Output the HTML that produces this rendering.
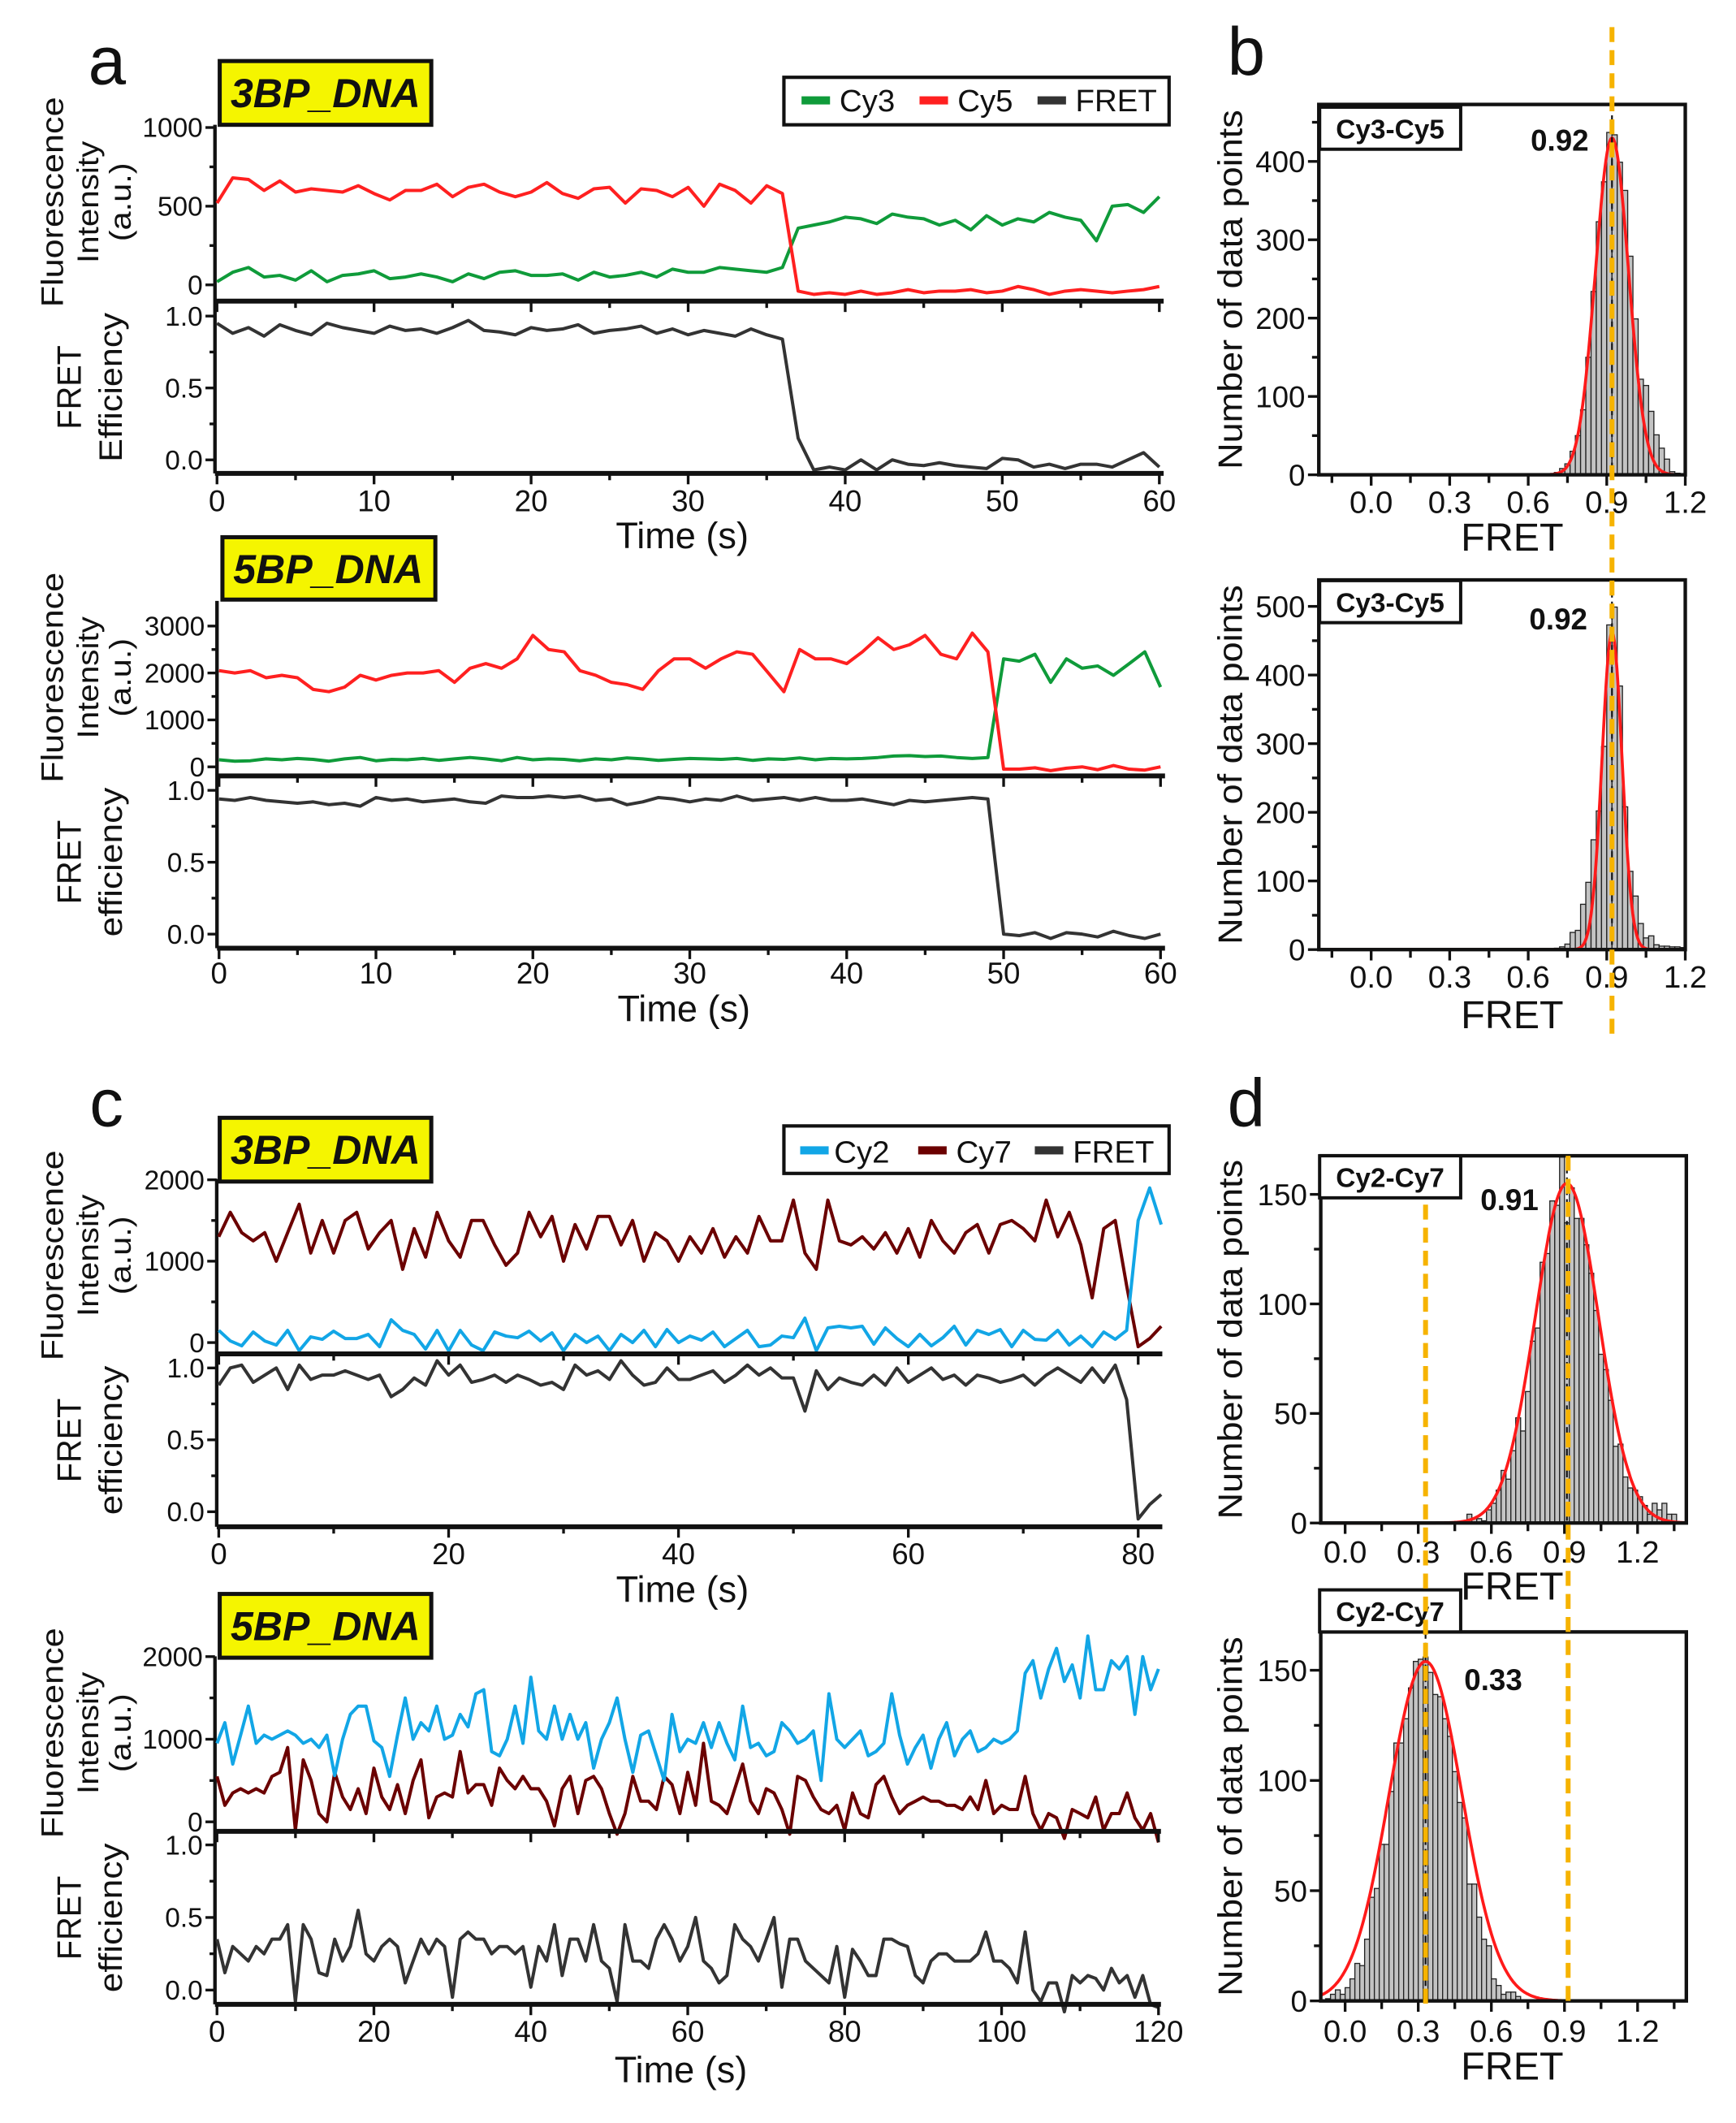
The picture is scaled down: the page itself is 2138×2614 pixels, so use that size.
<!DOCTYPE html>
<html><head><meta charset="utf-8">
<style>
html,body{margin:0;padding:0;background:#fff;}
svg{display:block;}
text{font-family:"Liberation Sans",Arial,sans-serif;fill:#111;}
</style></head>
<body>
<svg id="fig" xmlns="http://www.w3.org/2000/svg" width="2138" height="2614" viewBox="0 0 1280 1565" preserveAspectRatio="none">
<rect x="0" y="0" width="1280" height="1565" fill="#fff"/>
<text x="65" y="62" font-size="50">a</text>
<text x="905" y="55" font-size="50">b</text>
<text x="66" y="830" font-size="50">c</text>
<text x="905" y="830" font-size="50">d</text>

<g><rect x="162" y="45" width="156" height="47" fill="#f5f500" stroke="#111" stroke-width="3"/><text x="240" y="79" font-size="30" font-weight="bold" font-style="italic" text-anchor="middle">3BP_DNA</text></g>
<g><rect x="164" y="396" width="157" height="46" fill="#f5f500" stroke="#111" stroke-width="3"/><text x="242" y="430" font-size="30" font-weight="bold" font-style="italic" text-anchor="middle">5BP_DNA</text></g>
<g><rect x="162" y="824" width="156" height="47" fill="#f5f500" stroke="#111" stroke-width="3"/><text x="240" y="858" font-size="30" font-weight="bold" font-style="italic" text-anchor="middle">3BP_DNA</text></g>
<g><rect x="162" y="1175" width="156" height="47" fill="#f5f500" stroke="#111" stroke-width="3"/><text x="240" y="1209" font-size="30" font-weight="bold" font-style="italic" text-anchor="middle">5BP_DNA</text></g>

<g>
<rect x="578" y="57" width="284" height="35" fill="#fff" stroke="#111" stroke-width="2.5"/>
<rect x="591" y="71" width="21" height="6" fill="#0f9b3a"/><text x="619" y="82" font-size="23">Cy3</text>
<rect x="678" y="71" width="21" height="6" fill="#ff2020"/><text x="706" y="82" font-size="23">Cy5</text>
<rect x="765" y="71" width="21" height="6" fill="#333"/><text x="793" y="82" font-size="23">FRET</text>
</g>
<g>
<rect x="578" y="830" width="284" height="35" fill="#fff" stroke="#111" stroke-width="2.5"/>
<rect x="590" y="845" width="21" height="6" fill="#12a6e6"/><text x="615" y="857" font-size="23">Cy2</text>
<rect x="677" y="845" width="21" height="6" fill="#6b0000"/><text x="705" y="857" font-size="23">Cy7</text>
<rect x="763" y="845" width="21" height="6" fill="#333"/><text x="791" y="857" font-size="23">FRET</text>
</g>
</svg>
<script>
// ---------- trace data (dt = 1 s) ----------
const a1Cy5 = [520,680,670,600,660,590,610,600,590,630, 580,540,600,600,640,560,620,640,590,560, 590,650,580,550,610,620,520,610,600,560, 620,500,640,600,520,630,580,-40,-60,-50, -60,-40,-60,-50,-30,-50,-40,-40,-30,-50, -40,-10,-30,-60,-40,-30,-40,-50,-40,-30, -10];
const a1Cy3 = [20,80,110,50,60,30,90,20,60,70, 90,40,50,70,50,20,70,40,80,90, 60,60,70,30,80,50,60,80,50,100, 80,80,110,100,90,80,110,360,380,400, 430,420,390,450,430,420,380,410,350,440, 380,420,400,460,430,410,280,500,510,460, 560];
const a1Fret = [0.95,0.88,0.92,0.86,0.94,0.90,0.87,0.95,0.92,0.90, 0.88,0.93,0.90,0.91,0.88,0.92,0.97,0.90,0.89,0.87, 0.92,0.90,0.91,0.94,0.88,0.90,0.91,0.93,0.88,0.91, 0.87,0.90,0.88,0.86,0.91,0.87,0.84,0.15,-0.07,-0.05, -0.07,0.0,-0.07,0.0,-0.03,-0.04,-0.02,-0.04,-0.05,-0.06, 0.01,0.0,-0.05,-0.03,-0.06,-0.03,-0.03,-0.05,0.0,0.05, -0.05];
const a2Cy5 = [2050,2000,2050,1900,1950,1900,1650,1600,1700,1950, 1850,1950,2000,2000,2050,1800,2100,2200,2100,2300, 2800,2500,2450,2050,1950,1800,1750,1650,2050,2300, 2300,2100,2300,2450,2400,2000,1600,2500,2300,2300, 2200,2450,2750,2500,2600,2800,2400,2300,2850,2450, -50,-50,-20,-80,-30,0,-60,30,-50,-70, 0];
const a2Cy3 = [150,120,130,170,150,180,160,120,170,200, 130,160,150,180,140,170,200,170,130,200, 150,170,160,130,170,150,190,170,140,160, 180,170,160,180,140,170,160,190,150,180, 170,180,200,230,240,220,230,200,180,200, 2300,2250,2400,1800,2300,2100,2150,1950,2200,2450, 1700];
const a2Fret = [0.94,0.93,0.95,0.93,0.92,0.91,0.92,0.90,0.91,0.89, 0.95,0.93,0.94,0.92,0.93,0.94,0.92,0.91,0.96,0.95, 0.95,0.96,0.95,0.96,0.93,0.94,0.90,0.92,0.95,0.94, 0.92,0.94,0.93,0.96,0.93,0.94,0.95,0.93,0.95,0.93, 0.93,0.94,0.92,0.90,0.93,0.92,0.93,0.94,0.95,0.94, 0.0,-0.01,0.01,-0.03,0.01,0.0,-0.02,0.02,-0.01,-0.03, 0.0];
const c1Cy7 = [1300,1600,1350,1250,1350,1000,1350,1700,1100,1500, 1100,1500,1600,1150,1350,1500,900,1400,1050,1600, 1250,1050,1500,1500,1200,950,1100,1600,1300,1550, 1000,1450,1150,1550,1550,1200,1500,1000,1350,1250, 1000,1300,1100,1400,1050,1300,1100,1550,1250,1250, 1750,1100,900,1750,1250,1200,1300,1150,1350,1100, 1400,1050,1500,1250,1100,1350,1450,1100,1450,1500, 1400,1250,1750,1300,1600,1200,550,1400,1500,700, -50,50,200];
const c1Cy2 = [150,20,-40,130,20,-30,150,-100,70,40, 140,50,50,100,-50,280,150,100,-80,150, -100,150,-30,-100,130,80,60,140,20,120, -100,100,0,80,-100,100,0,150,-50,160, 0,80,30,130,-50,50,150,-50,-30,80, 60,300,-100,180,200,180,200,-20,180,50, -50,100,-40,60,200,-30,150,100,160,-50, 150,40,30,150,-30,80,-50,130,40,150, 1500,1900,1450];
const c1Fret = [0.88,1.0,1.02,0.9,0.95,1.0,0.85,1.02,0.92,0.95, 0.95,0.98,0.95,0.92,0.95,0.8,0.85,0.93,0.88,1.05, 0.95,1.02,0.9,0.92,0.95,0.9,0.95,0.92,0.88,0.9, 0.85,1.02,0.95,0.98,0.92,1.05,0.95,0.88,0.9,1.0, 0.92,0.92,0.95,0.98,0.9,0.95,1.02,0.95,1.0,0.93, 0.93,0.7,0.98,0.85,0.93,0.9,0.88,0.95,0.88,1.0, 0.9,0.95,1.0,0.92,0.95,0.88,0.95,0.93,0.9,0.92, 0.95,0.88,0.95,1.0,0.95,0.9,1.0,0.9,1.02,0.78, -0.05,0.05,0.12];
const c2Cy2 = [950,1200,700,1050,1400,950,1050,1000,1050,1100, 1050,950,1000,900,1050,560,1000,1300,1400,1400, 980,900,550,1050,1500,1000,1200,1100,1400,1000, 1050,1300,1150,1550,1600,850,800,1000,1400,950, 1750,1100,1000,1400,1000,1300,1000,1200,650,1000, 1200,1500,1000,600,1050,1100,800,500,1300,850, 1000,950,1200,900,1200,950,750,1400,900,950, 800,850,1200,1100,950,1000,1100,500,1550,1000, 900,1000,1100,800,850,950,1550,1050,700,900, 1050,650,1000,1200,800,1000,1100,850,900,1000, 950,1000,1100,1800,1950,1500,1850,2100,1700,1900, 1500,2250,1600,1600,1950,1850,2000,1300,2000,1600, 1850];
const c2Cy7 = [550,200,350,400,350,400,350,550,600,900, -100,750,500,100,0,600,300,150,400,100, 650,300,150,450,100,500,750,50,300,350, 300,850,350,450,450,200,650,500,400,550, 400,400,250,-50,400,550,100,500,550,400, 100,-150,100,550,250,250,150,550,450,100, 600,200,950,250,200,100,400,700,250,100, 400,350,150,-150,550,500,300,150,100,200, -100,350,100,50,450,550,300,100,200,250, 300,250,250,200,200,150,300,150,500,100, 200,150,150,550,100,-100,100,50,-200,150, 100,50,300,-100,100,100,350,50,-100,100, -250];
const c2Fret = [0.35,0.12,0.3,0.25,0.2,0.3,0.25,0.35,0.35,0.45, -0.08,0.45,0.35,0.12,0.1,0.35,0.2,0.3,0.55,0.25, 0.2,0.3,0.35,0.3,0.05,0.2,0.35,0.25,0.35,0.3, -0.05,0.35,0.4,0.35,0.35,0.25,0.3,0.3,0.25,0.3, 0.02,0.3,0.2,0.45,0.1,0.35,0.35,0.2,0.45,0.2, 0.15,-0.08,0.45,0.2,0.2,0.15,0.35,0.45,0.35,0.2, 0.3,0.5,0.2,0.15,0.05,0.1,0.45,0.35,0.3,0.2, 0.35,0.5,0.02,0.35,0.35,0.2,0.15,0.1,0.05,0.3, -0.05,0.28,0.2,0.1,0.1,0.35,0.35,0.32,0.3,0.1, 0.05,0.2,0.25,0.25,0.2,0.2,0.2,0.25,0.4,0.2, 0.2,0.15,0.05,0.4,0.0,-0.08,0.05,0.05,-0.15,0.1, 0.05,0.1,0.08,0.0,0.15,0.05,0.1,-0.05,0.1,-0.1, -0.12];

// ---------- histogram data ----------
const b1Counts = [3,8,14,30,50,83,150,234,323,374,437,434,399,363,279,199,122,114,81,51,34,20,4,2];
const b1BinStart = 0.70;
const b1Fit = [430, 0.92, 0.063];
const b2Counts = [1,2,4,8,25,28,66,98,160,202,296,473,499,384,208,114,78,38,17,20,7,5,5,4,4,3];
const b2BinStart = 0.68;
const b2Fit = [462, 0.92, 0.038];
const d1Counts = [4,2,2,1,6,9,15,24,20,33,48,42,60,83,89,119,123,147,145,167,137,153,139,139,127,114,97,77,70,56,35,36,21,16,15,12,8,4,9,6,9,4,4];
const d1BinStart = 0.50;
const d1Fit = [155, 0.91, 0.13];
const d2Counts = [1,3,5,3,6,10,17,16,28,47,51,71,71,95,117,117,128,142,154,155,156,149,139,138,128,120,104,90,83,53,53,38,28,25,10,7,3,4,4,2];
const d2BinStart = -0.08;
const d2Fit = [154, 0.33, 0.15];
const binWidth = 0.02;
const histXTicks = [0.0,0.3,0.6,0.9,1.2];
const histXTickLabels = ["0.0","0.3","0.6","0.9","1.2"];
const bYTicks = [0,100,200,300,400];
const b2YTicks = [0,100,200,300,400,500];
const dYTicks = [0,50,100,150];
const fretTicks = [0,0.5,1.0];
const fretTickLabels = ["0.0","0.5","1.0"];

const NS = "http://www.w3.org/2000/svg";
const svg = document.getElementById('fig');
function mk(tag, attrs, parent) {
  const e = document.createElementNS(NS, tag);
  for (const k in attrs) e.setAttribute(k, attrs[k]);
  (parent || svg).appendChild(e);
  return e;
}
function txt(x, y, s, size, parent, anchor, extra) {
  const t = mk('text', Object.assign({x: x, y: y, 'font-size': size, 'text-anchor': anchor || 'middle'}, extra || {}), parent);
  t.textContent = s;
  return t;
}
function rotText(x, y, s, size, len, parent) {
  const t = mk('text', {x: 0, y: 0, 'font-size': size, 'text-anchor': 'middle', 'dominant-baseline': 'central', transform: 'translate(' + x + ',' + y + ') rotate(-90)', textLength: len, lengthAdjust: 'spacingAndGlyphs'}, parent);
  t.textContent = s;
  return t;
}

function tracePanel(P) {
  const g = mk('g', {});
  
  
  const X = t => P.x0 + t * P.sx;
  const YI = v => P.iy0 - v * P.ik;
  const YF = v => P.fy0 - v * P.fk;
  const axX = P.x0 - 1.5;
  // left axis
  const la = mk('line', {x1: axX, y1: P.top, x2: axX, y2: P.bottom, stroke: '#111', 'stroke-width': 2.6}, g);
  
  
  // intensity ticks
  for (let v = 0; v <= P.imax + 1e-9; v += P.iminor) {
    const maj = Math.abs(v / P.imajor - Math.round(v / P.imajor)) < 1e-6;
    mk('line', {x1: axX - (maj ? 7 : 4), y1: YI(v), x2: axX, y2: YI(v), stroke: '#111', 'stroke-width': 2}, g);
    if (maj) {
      const tl = txt(axX - 9, YI(v) + 7, String(v), 20, g, 'end');
      
      
    }
  }
  // fret ticks
  for (let v = 0; v <= 1.0001; v += 0.25) {
    const maj = Math.abs(v * 2 - Math.round(v * 2)) < 1e-6;
    mk('line', {x1: axX - (maj ? 7 : 4), y1: YF(v), x2: axX, y2: YF(v), stroke: '#111', 'stroke-width': 2}, g);
  }
  fretTicks.forEach((v, i) => {
    const tl = txt(axX - 9, YF(v) + 7, fretTickLabels[i], 20, g, 'end');
    
    
  });
  // series
  const clipId = P.name + '-clip';
  const cp = mk('clipPath', {id: clipId}, g);
  mk('rect', {x: axX, y: P.top - 40, width: P.xEnd - axX + 4, height: P.bottom - P.top + 50}, cp);
  function poly(arr, yf, color, nm) {
    const pts = arr.map((v, i) => X(i * P.dt).toFixed(1) + ',' + yf(v).toFixed(1)).join(' ');
    const pl = mk('polyline', {points: pts, fill: 'none', stroke: color, 'stroke-width': 2.4, 'stroke-linejoin': 'round', 'clip-path': 'url(#' + clipId + ')'}, g);
    
    
  }
  poly(P.s1, YI, P.c1, P.n1);
  poly(P.s2, YI, P.c2, P.n2);
  poly(P.fret, YF, '#333', 'fret-efficiency-line');
  // separator & bottom axis
  [P.sep, P.bottom].forEach((yy, k) => {
    const ln = mk('line', {x1: axX, y1: yy, x2: P.xEnd, y2: yy, stroke: '#111', 'stroke-width': 3.6}, g);
    
    
    for (let t = 0; t <= P.tmax + 1e-9; t += P.tminor) {
      const maj = Math.abs(t / P.tmajor - Math.round(t / P.tmajor)) < 1e-6;
      mk('line', {x1: X(t), y1: yy, x2: X(t), y2: yy + (maj ? 8 : 5), stroke: '#111', 'stroke-width': 2}, g);
    }
  });
  for (let t = 0; t <= P.tmax + 1e-9; t += P.tmajor) {
    const tl = txt(X(t), P.tickBase, String(t), 22, g, 'middle');
    
    
  }
  const xt = txt((P.x0 + P.xEnd) / 2 - 6, P.timeBase, 'Time (s)', 27, g, 'middle');
  
  
  const ic = (P.top + P.sep) / 2 - 8;
  const t1 = rotText(39, ic, 'Fluorescence', 23, 155, g);
  
  
  const t2 = rotText(65, ic, 'Intensity', 22, 90, g);
  
  
  const t3 = rotText(89, ic, '(a.u.)', 22, 58, g);
  
  
  const fc = (P.sep + P.bottom) / 2;
  const t4 = rotText(51, fc, 'FRET', 25, 62, g);
  
  
  const t5 = rotText(82, fc, P.effWord, 24, 110, g);
  
  
}

tracePanel({name: 'trace-a-3bp', x0: 160, sx: 11.58, xEnd: 858, dt: 1, tmax: 60, tmajor: 10, tminor: 5,
  iy0: 210, ik: 0.116, imax: 1000, imajor: 500, iminor: 250, top: 92, sep: 222, fy0: 339, fk: 106, bottom: 349,
  tickBase: 377, timeBase: 404, s1: a1Cy3, c1: '#0f9b3a', n1: 'cy3-line', s2: a1Cy5, c2: '#ff2020', n2: 'cy5-line', fret: a1Fret, effWord: 'Efficiency'});
tracePanel({name: 'trace-a-5bp', x0: 161.5, sx: 11.57, xEnd: 859, dt: 1, tmax: 60, tmajor: 10, tminor: 5,
  iy0: 565.3, ik: 0.0346, imax: 3000, imajor: 1000, iminor: 500, top: 443, sep: 572, fy0: 688.6, fk: 106, bottom: 699,
  tickBase: 725, timeBase: 753, s1: a2Cy3, c1: '#0f9b3a', n1: 'cy3-line', s2: a2Cy5, c2: '#ff2020', n2: 'cy5-line', fret: a2Fret, effWord: 'efficiency'});
tracePanel({name: 'trace-c-3bp', x0: 161.3, sx: 8.474, xEnd: 857, dt: 1, tmax: 80, tmajor: 20, tminor: 10,
  iy0: 989.7, ik: 0.06, imax: 2000, imajor: 1000, iminor: 500, top: 869, sep: 998, fy0: 1114.4, fk: 106, bottom: 1125.5,
  tickBase: 1153, timeBase: 1181, s1: c1Cy7, c1: '#6b0000', n1: 'cy7-line', s2: c1Cy2, c2: '#12a6e6', n2: 'cy2-line', fret: c1Fret, effWord: 'efficiency'});
tracePanel({name: 'trace-c-5bp', x0: 160, sx: 5.785, xEnd: 856, dt: 1, tmax: 120, tmajor: 20, tminor: 10,
  iy0: 1343, ik: 0.0609, imax: 2000, imajor: 1000, iminor: 500, top: 1221, sep: 1350, fy0: 1467, fk: 107, bottom: 1477.5,
  tickBase: 1505, timeBase: 1535, s1: c2Cy7, c1: '#6b0000', n1: 'cy7-line', s2: c2Cy2, c2: '#12a6e6', n2: 'cy2-line', fret: c2Fret, effWord: 'efficiency'});

function histPanel(H) {
  const g = mk('g', {});
  
  
  const X = f => H.x0 + f * H.sx;
  const Y = n => H.y0 - n * H.ky;
  H.counts.forEach((c, i) => {
    const f = H.start + i * binWidth;
    const r = mk('rect', {x: X(f), y: Y(c), width: binWidth * H.sx, height: c * H.ky, fill: '#c3c3c3', stroke: '#222', 'stroke-width': 0.8}, g);
    
    
  });
  const pts = [];
  for (let k = 0; k <= 300; k++) {
    const f = H.fmin + (H.fmax - H.fmin) * k / 300;
    const n = H.fit[0] * Math.exp(-Math.pow(f - H.fit[1], 2) / (2 * H.fit[2] * H.fit[2]));
    pts.push(X(f).toFixed(1) + ',' + Y(n).toFixed(1));
  }
  const fl = mk('polyline', {points: pts.join(' '), fill: 'none', stroke: '#ff1a1a', 'stroke-width': 2.2}, g);
  
  
  const cl = mk('line', {x1: X(H.fit[1]), y1: H.top, x2: X(H.fit[1]), y2: H.y0, stroke: '#111', 'stroke-width': 1.3, 'stroke-dasharray': '5,3'}, g);
  
  
  const fr = mk('rect', {x: X(H.fmin), y: H.top, width: (H.fmax - H.fmin) * H.sx, height: H.y0 - H.top, fill: 'none', stroke: '#111', 'stroke-width': 2.6}, g);
  
  
  const lx = X(H.fmin);
  for (let v = 0; v <= H.ymax + 1e-9; v += H.yminor) {
    const maj = Math.abs(v / H.ymajor - Math.round(v / H.ymajor)) < 1e-6;
    mk('line', {x1: lx - (maj ? 8 : 5), y1: Y(v), x2: lx, y2: Y(v), stroke: '#111', 'stroke-width': 2}, g);
  }
  H.yticks.forEach(v => {
    const tl = txt(lx - 10, Y(v) + 8, String(v), 22, g, 'end');
    
    
  });
  for (let f = -0.15; f <= H.fmax + 1e-6; f += 0.15) {
    if (f < H.fmin - 1e-6) continue;
    const maj = Math.abs(f / 0.3 - Math.round(f / 0.3)) < 1e-6;
    mk('line', {x1: X(f), y1: H.y0, x2: X(f), y2: H.y0 + (maj ? 8 : 6), stroke: '#111', 'stroke-width': 2}, g);
  }
  histXTicks.forEach((f, i) => {
    const tl = txt(X(f), H.tickBase, histXTickLabels[i], 23, g, 'middle');
    
    
  });
  const xt = txt(1115, H.titleBase, 'FRET', 29, g, 'middle');
  
  
  const yt = rotText(907, (H.top + H.y0) / 2, 'Number of data points', 25, 265, g);
  
  
  const bx = mk('rect', {x: 973, y: H.boxY, width: 104, height: 31, fill: '#fff', stroke: '#111', 'stroke-width': 2.4}, g);
  
  
  const bt = txt(1025, H.boxY + 23, H.pair, 20, g, 'middle', {'font-weight': 'bold'});
  
  
  const vt = txt(H.valX, H.valBase, H.val, 22, g, 'middle', {'font-weight': 'bold'});
  
  
}

histPanel({name: 'hist-b-3bp', x0: 1011, sx: 193, fmin: -0.2, fmax: 1.2, y0: 350, ky: 0.5775, top: 77,
  ymax: 450, ymajor: 100, yminor: 50, yticks: bYTicks, counts: b1Counts, start: b1BinStart, fit: b1Fit,
  tickBase: 378, titleBase: 406, boxY: 79, pair: 'Cy3-Cy5', val: '0.92', valX: 1150, valBase: 111});
histPanel({name: 'hist-b-5bp', x0: 1011, sx: 193, fmin: -0.2, fmax: 1.2, y0: 700, ky: 0.506, top: 427.5,
  ymax: 500, ymajor: 100, yminor: 50, yticks: b2YTicks, counts: b2Counts, start: b2BinStart, fit: b2Fit,
  tickBase: 728, titleBase: 758, boxY: 428, pair: 'Cy3-Cy5', val: '0.92', valX: 1149, valBase: 464});
histPanel({name: 'hist-d-3bp', x0: 991.8, sx: 179.7, fmin: -0.1, fmax: 1.4, y0: 1122.7, ky: 1.615, top: 852,
  ymax: 150, ymajor: 50, yminor: 25, yticks: dYTicks, counts: d1Counts, start: d1BinStart, fit: d1Fit,
  tickBase: 1152, titleBase: 1179, boxY: 852, pair: 'Cy2-Cy7', val: '0.91', valX: 1113, valBase: 892});
histPanel({name: 'hist-d-5bp', x0: 991.8, sx: 179.7, fmin: -0.1, fmax: 1.4, y0: 1475, ky: 1.625, top: 1203,
  ymax: 150, ymajor: 50, yminor: 25, yticks: dYTicks, counts: d2Counts, start: d2BinStart, fit: d2Fit,
  tickBase: 1505, titleBase: 1533, boxY: 1172, pair: 'Cy2-Cy7', val: '0.33', valX: 1101, valBase: 1246});

// orange reference lines
const refLines = [[1011 + 0.92 * 193, 20, 768], [991.8 + 0.33 * 179.7, 888, 1480], [991.8 + 0.915 * 179.7, 852, 1480]];
refLines.forEach(r => {
  const l = mk('line', {x1: r[0], y1: r[1], x2: r[0], y2: r[2], stroke: '#f6b300', 'stroke-width': 3.6, 'stroke-dasharray': '11,6'});
  
  
});
</script>
</body></html>
